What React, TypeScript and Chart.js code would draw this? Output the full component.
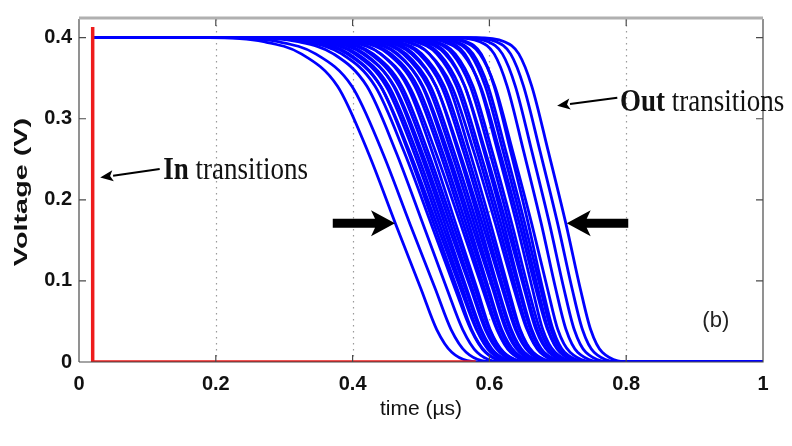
import React, { useEffect, useRef } from "react";
import { Chart, registerables } from "chart.js";

Chart.register(...registerables);

// ---- axis ticks ----
const xTickValues = [0, 0.2, 0.4, 0.6, 0.8, 1];
const xTickLabels = ["0", "0.2", "0.4", "0.6", "0.8", "1"];
const yTickValues = [0, 0.1, 0.2, 0.3, 0.4];
const yTickLabels = ["0", "0.1", "0.2", "0.3", "0.4"];
const gridTimes = [0.2, 0.4, 0.6, 0.8];

// ---- "In" transition (red) ----
const inTimes = [0.02, 0.02, 0.58];
const inVolts = [0.413, 0, 0];

// ---- "Out" transitions (blue) ----
// every curve starts high at outStartTime and stays low until outEndTime;
// each row gives the times (µs) at which one curve crosses the voltages in outLevels
const outStartTime = 0.02;
const outHighVolt = 0.4;
const outEndTime = 1;
const outLowVolt = 0;
const outLevels = [0.4, 0.395, 0.38, 0.34, 0.26, 0.17, 0.09, 0.04, 0.012, 0];
const outCrossTimes = [
  [0.19, 0.27, 0.325, 0.378, 0.422, 0.463, 0.5, 0.523, 0.545, 0.59],
  [0.211, 0.291, 0.346, 0.399, 0.443, 0.484, 0.521, 0.544, 0.566, 0.611],
  [0.244, 0.32, 0.372, 0.421, 0.463, 0.503, 0.538, 0.561, 0.582, 0.627],
  [0.256, 0.332, 0.384, 0.433, 0.475, 0.515, 0.55, 0.573, 0.594, 0.639],
  [0.274, 0.347, 0.395, 0.441, 0.481, 0.519, 0.553, 0.574, 0.595, 0.64],
  [0.264, 0.34, 0.392, 0.441, 0.483, 0.523, 0.558, 0.581, 0.602, 0.647],
  [0.282, 0.355, 0.403, 0.449, 0.489, 0.527, 0.561, 0.582, 0.603, 0.648],
  [0.286, 0.359, 0.407, 0.453, 0.493, 0.531, 0.565, 0.586, 0.607, 0.652],
  [0.304, 0.373, 0.418, 0.46, 0.498, 0.535, 0.567, 0.588, 0.608, 0.653],
  [0.294, 0.367, 0.415, 0.461, 0.501, 0.539, 0.573, 0.594, 0.615, 0.66],
  [0.312, 0.381, 0.426, 0.468, 0.506, 0.543, 0.575, 0.596, 0.616, 0.661],
  [0.316, 0.385, 0.43, 0.472, 0.51, 0.547, 0.579, 0.6, 0.62, 0.665],
  [0.334, 0.399, 0.441, 0.48, 0.516, 0.551, 0.582, 0.601, 0.621, 0.666],
  [0.327, 0.396, 0.441, 0.483, 0.521, 0.558, 0.59, 0.611, 0.631, 0.676],
  [0.345, 0.41, 0.452, 0.491, 0.527, 0.562, 0.593, 0.612, 0.632, 0.677],
  [0.349, 0.414, 0.456, 0.495, 0.531, 0.566, 0.597, 0.616, 0.636, 0.681],
  [0.367, 0.428, 0.466, 0.502, 0.536, 0.57, 0.599, 0.618, 0.638, 0.683],
  [0.357, 0.422, 0.464, 0.503, 0.539, 0.574, 0.605, 0.624, 0.644, 0.689],
  [0.375, 0.436, 0.474, 0.51, 0.544, 0.578, 0.607, 0.626, 0.646, 0.691],
  [0.379, 0.44, 0.478, 0.514, 0.548, 0.582, 0.611, 0.63, 0.65, 0.695],
  [0.398, 0.455, 0.489, 0.522, 0.554, 0.586, 0.613, 0.632, 0.651, 0.696],
  [0.387, 0.448, 0.486, 0.522, 0.556, 0.59, 0.619, 0.638, 0.658, 0.703],
  [0.406, 0.463, 0.497, 0.53, 0.562, 0.594, 0.621, 0.64, 0.659, 0.704],
  [0.41, 0.467, 0.501, 0.534, 0.566, 0.598, 0.625, 0.644, 0.663, 0.708],
  [0.428, 0.481, 0.512, 0.541, 0.571, 0.602, 0.628, 0.645, 0.664, 0.709],
  [0.421, 0.478, 0.512, 0.545, 0.577, 0.609, 0.636, 0.655, 0.674, 0.719],
  [0.439, 0.492, 0.523, 0.552, 0.582, 0.613, 0.639, 0.656, 0.675, 0.72],
  [0.443, 0.496, 0.527, 0.556, 0.586, 0.617, 0.643, 0.66, 0.679, 0.724],
  [0.461, 0.51, 0.538, 0.564, 0.592, 0.621, 0.645, 0.662, 0.68, 0.725],
  [0.451, 0.504, 0.535, 0.564, 0.594, 0.625, 0.651, 0.668, 0.687, 0.732],
  [0.469, 0.518, 0.546, 0.572, 0.6, 0.629, 0.653, 0.67, 0.688, 0.733],
  [0.473, 0.522, 0.55, 0.576, 0.604, 0.633, 0.657, 0.674, 0.692, 0.737],
  [0.494, 0.54, 0.564, 0.586, 0.612, 0.64, 0.663, 0.678, 0.696, 0.741],
  [0.484, 0.533, 0.561, 0.587, 0.615, 0.644, 0.668, 0.685, 0.703, 0.748],
  [0.502, 0.548, 0.572, 0.594, 0.62, 0.648, 0.671, 0.686, 0.704, 0.749],
  [0.506, 0.552, 0.576, 0.598, 0.624, 0.652, 0.675, 0.69, 0.708, 0.753],
  [0.525, 0.567, 0.588, 0.607, 0.631, 0.657, 0.678, 0.693, 0.71, 0.755],
  [0.516, 0.562, 0.586, 0.608, 0.634, 0.662, 0.685, 0.7, 0.718, 0.763],
  [0.544, 0.586, 0.607, 0.626, 0.65, 0.676, 0.697, 0.712, 0.729, 0.774],
  [0.556, 0.598, 0.619, 0.638, 0.662, 0.688, 0.709, 0.724, 0.741, 0.786],
  [0.568, 0.61, 0.631, 0.65, 0.674, 0.7, 0.721, 0.736, 0.753, 0.798],
  [0.58, 0.622, 0.643, 0.662, 0.686, 0.712, 0.733, 0.748, 0.765, 0.81],
];

// ---- annotations (data units: [time, volt]) ----
const inArrowFrom = [0.118, 0.238];
const inArrowTo = [0.031, 0.2275];
const inLabelAt = [0.123, 0.226];
const outArrowFrom = [0.787, 0.326];
const outArrowTo = [0.699, 0.316];
const outLabelAt = [0.791, 0.309];
const leftBigArrow = [[0.371, 0.171], [0.462, 0.171]];
const rightBigArrow = [[0.803, 0.171], [0.713, 0.171]];
const panelLabelAt = [0.931, 0.043];

const SANS = '"Liberation Sans", Arial, Helvetica, sans-serif';
const SERIF = '"Liberation Serif", "Times New Roman", Times, serif';

function drawThinArrow(ctx: CanvasRenderingContext2D, x1: number, y1: number, x2: number, y2: number) {
  const ang = Math.atan2(y2 - y1, x2 - x1);
  const hl = 13, hw = 5.5;
  const bx = x2 - hl * Math.cos(ang), by = y2 - hl * Math.sin(ang);
  ctx.beginPath();
  ctx.moveTo(x1, y1);
  ctx.lineTo(bx, by);
  ctx.lineWidth = 2;
  ctx.strokeStyle = "#000";
  ctx.stroke();
  ctx.beginPath();
  ctx.moveTo(x2, y2);
  ctx.lineTo(bx + hw * Math.sin(ang), by - hw * Math.cos(ang));
  ctx.lineTo(bx + 3 * Math.cos(ang), by + 3 * Math.sin(ang));
  ctx.lineTo(bx - hw * Math.sin(ang), by + hw * Math.cos(ang));
  ctx.closePath();
  ctx.fillStyle = "#000";
  ctx.fill();
}

function drawThickArrow(ctx: CanvasRenderingContext2D, x1: number, y: number, x2: number) {
  const dir = Math.sign(x2 - x1);
  const hl = 20, hh = 13, sh = 4.5;
  const bx = x2 - dir * hl;
  ctx.beginPath();
  ctx.moveTo(x1, y - sh);
  ctx.lineTo(bx, y - sh);
  ctx.lineTo(bx - dir * 4, y - hh);
  ctx.lineTo(x2, y);
  ctx.lineTo(bx - dir * 4, y + hh);
  ctx.lineTo(bx, y + sh);
  ctx.lineTo(x1, y + sh);
  ctx.closePath();
  ctx.fillStyle = "#000";
  ctx.fill();
}

function drawMixedLabel(ctx: CanvasRenderingContext2D, x: number, y: number, bold: string, rest: string) {
  ctx.save();
  ctx.translate(x, y);
  ctx.scale(1, 1.2);
  ctx.fillStyle = "#111";
  ctx.textBaseline = "alphabetic";
  ctx.textAlign = "left";
  ctx.font = `bold 27px ${SERIF}`;
  ctx.fillText(bold, 0, 0);
  const w = ctx.measureText(bold).width;
  ctx.font = `27px ${SERIF}`;
  ctx.fillText(rest, w, 0);
  ctx.restore();
}

const decorPlugin = {
  id: "figureDecor",
  beforeDatasetsDraw(chart: any) {
    const { ctx, chartArea, scales } = chart;
    const { top, bottom } = chartArea;
    ctx.save();
    ctx.strokeStyle = "#9a9a9a";
    ctx.lineWidth = 1.2;
    ctx.setLineDash([1.5, 4.5]);
    for (const v of gridTimes) {
      const px = Math.round(scales.x.getPixelForValue(v)) + 0.5;
      ctx.beginPath();
      ctx.moveTo(px, top);
      ctx.lineTo(px, bottom);
      ctx.stroke();
    }
    ctx.restore();
  },
  afterDatasetsDraw(chart: any) {
    const { ctx, chartArea, scales } = chart;
    const { left, right, top, bottom } = chartArea;
    ctx.save();
    ctx.strokeStyle = "#4a4a4a";
    ctx.lineWidth = 1.2;
    ctx.beginPath();
    ctx.moveTo(left, bottom);
    ctx.lineTo(right, bottom);
    ctx.lineTo(right, top);
    ctx.moveTo(left, top);
    ctx.lineTo(left, bottom);
    for (const v of xTickValues) {
      const px = scales.x.getPixelForValue(v);
      ctx.moveTo(px, bottom);
      ctx.lineTo(px, bottom - 7);
      ctx.moveTo(px, top);
      ctx.lineTo(px, top + 7);
    }
    for (const v of yTickValues) {
      const py = scales.y.getPixelForValue(v);
      ctx.moveTo(left, py);
      ctx.lineTo(left + 7, py);
      ctx.moveTo(right, py);
      ctx.lineTo(right - 7, py);
    }
    ctx.stroke();
    ctx.strokeStyle = "#b0b0b0";
    ctx.lineWidth = 3;
    ctx.beginPath();
    ctx.moveTo(left, top - 1);
    ctx.lineTo(right, top - 1);
    ctx.stroke();
    ctx.restore();
  },
  afterDraw(chart: any) {
    const { ctx, scales } = chart;
    const X = (v: number) => scales.x.getPixelForValue(v);
    const Y = (v: number) => scales.y.getPixelForValue(v);
    ctx.save();
    // y-axis title (stretched along its length as in the figure)
    ctx.save();
    ctx.translate(22, 192);
    ctx.rotate(-Math.PI / 2);
    ctx.scale(1.6, 1);
    ctx.font = `bold 18px ${SANS}`;
    ctx.fillStyle = "#111";
    ctx.textAlign = "center";
    ctx.textBaseline = "middle";
    ctx.fillText("Voltage (V)", 0, 0);
    ctx.restore();

    drawThinArrow(ctx, X(inArrowFrom[0]), Y(inArrowFrom[1]), X(inArrowTo[0]), Y(inArrowTo[1]));
    drawMixedLabel(ctx, X(inLabelAt[0]), Y(inLabelAt[1]), "In", " transitions");
    drawThinArrow(ctx, X(outArrowFrom[0]), Y(outArrowFrom[1]), X(outArrowTo[0]), Y(outArrowTo[1]));
    drawMixedLabel(ctx, X(outLabelAt[0]), Y(outLabelAt[1]), "Out", " transitions");
    drawThickArrow(ctx, X(leftBigArrow[0][0]), Y(leftBigArrow[0][1]), X(leftBigArrow[1][0]));
    drawThickArrow(ctx, X(rightBigArrow[0][0]), Y(rightBigArrow[0][1]), X(rightBigArrow[1][0]));

    ctx.font = `22px ${SANS}`;
    ctx.fillStyle = "#222";
    ctx.textAlign = "center";
    ctx.textBaseline = "alphabetic";
    ctx.fillText("(b)", X(panelLabelAt[0]), Y(panelLabelAt[1]));
    ctx.restore();
  },
};

export default function App() {
  const canvasRef = useRef<HTMLCanvasElement | null>(null);

  useEffect(() => {
    const canvas = canvasRef.current;
    if (!canvas) return;

    const inData = inTimes.map((t, i) => ({ x: t, y: inVolts[i] }));
    const outDatasets = outCrossTimes.map((row) => ({
      data: [
        { x: outStartTime, y: outHighVolt },
        ...row.map((t, i) => ({ x: t, y: outLevels[i] })),
        { x: outEndTime, y: outLowVolt },
      ],
      showLine: true,
      borderColor: "#0000ff",
      borderWidth: 2.8,
      pointRadius: 0,
      cubicInterpolationMode: "monotone" as const,
      fill: false,
    }));

    const chart = new Chart(canvas, {
      type: "scatter",
      data: {
        datasets: [
          {
            data: inData,
            showLine: true,
            borderColor: "#ee1c1c",
            borderWidth: 3.5,
            pointRadius: 0,
            tension: 0,
            fill: false,
          },
          ...outDatasets,
        ],
      },
      options: {
        animation: false,
        responsive: false,
        maintainAspectRatio: false,
        devicePixelRatio: 1,
        layout: { padding: { left: 0, right: 29, top: 8, bottom: 0 } },
        plugins: { legend: { display: false }, tooltip: { enabled: false } },
        elements: { point: { radius: 0 } },
        scales: {
          x: {
            type: "linear",
            min: 0,
            max: 1,
            grid: { display: false, drawTicks: false },
            border: { display: false },
            afterBuildTicks: (s: any) => {
              s.ticks = xTickValues.map((v) => ({ value: v }));
            },
            afterFit: (s: any) => {
              s.height = 84;
            },
            ticks: {
              autoSkip: false,
              maxRotation: 0,
              padding: 10,
              color: "#111",
              font: { family: SANS, size: 20, weight: "bold" },
              callback: (v: any) => xTickLabels[xTickValues.indexOf(Number(v))] ?? "",
            },
            title: {
              display: true,
              text: "time (µs)",
              color: "#111",
              font: { family: SANS, size: 21 },
              padding: { top: 0, bottom: 24 },
            },
          },
          y: {
            type: "linear",
            min: 0,
            max: 0.423,
            grid: { display: false, drawTicks: false },
            border: { display: false },
            afterBuildTicks: (s: any) => {
              s.ticks = yTickValues.map((v) => ({ value: v }));
            },
            afterFit: (s: any) => {
              s.width = 79;
            },
            ticks: {
              autoSkip: false,
              padding: 7,
              color: "#111",
              font: { family: SANS, size: 20, weight: "bold" },
              callback: (v: any) => yTickLabels[yTickValues.indexOf(Number(v))] ?? "",
            },
          },
        },
      },
      plugins: [decorPlugin],
    });

    return () => {
      chart.destroy();
    };
  }, []);

  return (
    <div style={{ position: "fixed", left: 0, top: 0, width: 792, height: 446, background: "#fff" }}>
      <canvas ref={canvasRef} width={792} height={446} style={{ display: "block" }} />
    </div>
  );
}
